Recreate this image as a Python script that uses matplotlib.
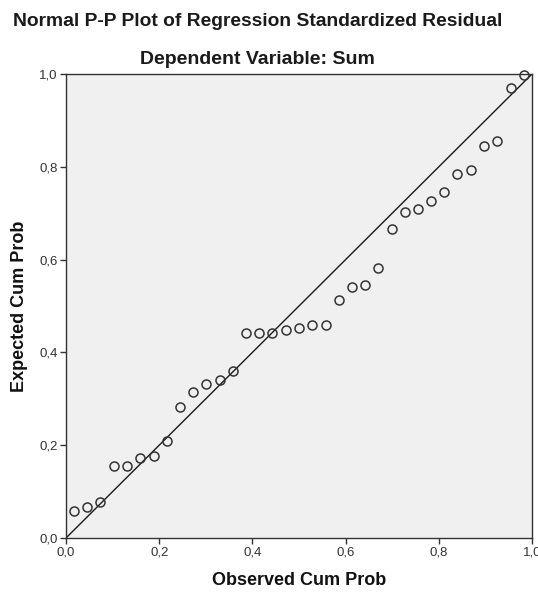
import numpy as np
import matplotlib.pyplot as plt
from matplotlib.ticker import FuncFormatter

# observed vs expected cumulative probabilities
observed = [0.018, 0.046, 0.074, 0.103, 0.131, 0.159, 0.188, 0.216, 0.245, 0.273,
            0.301, 0.330, 0.358, 0.387, 0.415, 0.443, 0.472, 0.500, 0.528, 0.557,
            0.585, 0.613, 0.642, 0.670, 0.699, 0.727, 0.755, 0.784, 0.812, 0.840,
            0.869, 0.897, 0.925, 0.954, 0.982]
expected = [0.059, 0.067, 0.078, 0.155, 0.156, 0.173, 0.176, 0.210, 0.283, 0.315,
            0.332, 0.340, 0.360, 0.442, 0.442, 0.442, 0.448, 0.453, 0.460, 0.460,
            0.513, 0.540, 0.545, 0.581, 0.667, 0.703, 0.710, 0.727, 0.746, 0.784,
            0.793, 0.845, 0.855, 0.969, 0.998]
ticks = [0.0, 0.2, 0.4, 0.6, 0.8, 1.0]

plt.rcParams['font.family'] = ['Liberation Sans', 'DejaVu Sans']

fig = plt.figure(figsize=(5.38, 5.95), dpi=100)
ax = fig.add_axes([66/538, 57/595, 466/538, 464/595])
ax.set_facecolor('#f0f0f0')

ax.plot([0, 1], [0, 1], color='#1a1a1a', lw=1.0, zorder=2)
ax.plot(observed, expected, linestyle='none', marker='o', markersize=6.5,
        markerfacecolor='none', markeredgecolor='#333333', markeredgewidth=1.1,
        clip_on=False, zorder=3)

ax.set_xlim(0, 1)
ax.set_ylim(0, 1)
ax.set_xticks(ticks)
ax.set_yticks(ticks)
fmt = FuncFormatter(lambda v, p: ('%.1f' % v).replace('.', ','))
ax.xaxis.set_major_formatter(fmt)
ax.yaxis.set_major_formatter(fmt)
ax.tick_params(direction='out', length=4, width=1, color='#333333',
               labelsize=9.5, labelcolor='#333333', pad=2)
for s in ax.spines.values():
    s.set_color('#333333')
    s.set_linewidth(1.0)

ax.set_xlabel('Observed Cum Prob', fontsize=13, fontweight='bold',
              color='#111111', labelpad=10)
ax.set_ylabel('Expected Cum Prob', fontsize=13, fontweight='bold',
              color='#111111', labelpad=8)

fig.text(258/538, 1 - 22/595, 'Normal P-P Plot of Regression Standardized Residual',
         ha='center', va='center', fontsize=13.9, fontweight='bold', color='#1a1a1a')
fig.text(257/538, 1 - 59/595, 'Dependent Variable: Sum',
         ha='center', va='center', fontsize=14, fontweight='bold', color='#1a1a1a')

fig.savefig('out.png', dpi=100)
